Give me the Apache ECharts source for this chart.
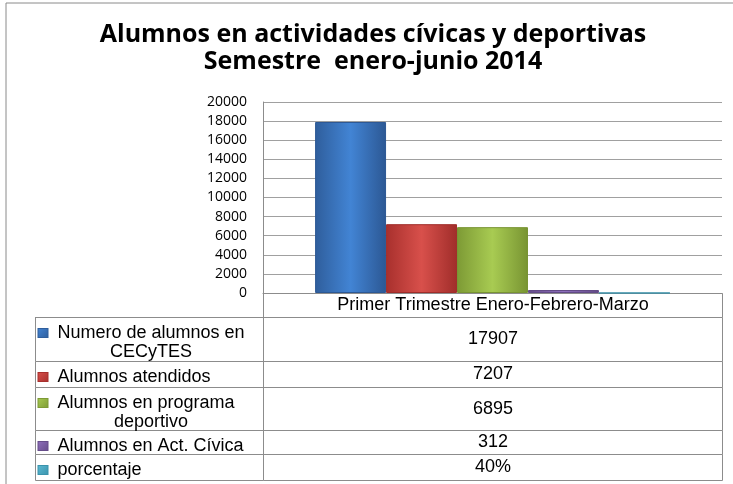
<!DOCTYPE html>
<html>
<head>
<meta charset="utf-8">
<script src="https://cdn.jsdelivr.net/npm/echarts@6.0.0/dist/echarts.min.js"></script>
<style>
  html, body { margin: 0; padding: 0; background: #fff; }
</style>
</head>
<body>
<div id="chart" style="width: 733px; height: 484px"></div>
<script>
// datos
const categories = ['Primer Trimestre Enero-Febrero-Marzo']
const seriesNames = [
  'Numero de alumnos en\nCECyTES',
  'Alumnos atendidos',
  'Alumnos en programa\ndeportivo',
  'Alumnos en Act. Cívica',
  'porcentaje',
]
const seriesValues = [17907, 7207, 6895, 312, 0.4]
const tableLabels = ['17907', '7207', '6895', '312', '40%']

// colores tipo Office con bisel
const colors = [
  ['#2f5e9c', '#4284d4', '#2c5894'],
  ['#a8302d', '#d8504b', '#a02d2a'],
  ['#7d9a35', '#a8cb52', '#789432'],
  ['#664d8a', '#9070bd', '#624a86'],
  ['#3a93ac', '#5cbad4', '#388ea6'],
]
const rowHeights = [44, 26, 43, 24, 26]

const chart = echarts.init(document.getElementById('chart'))
const tableFont = 'Liberation Sans'
const tableSize = 18
const borderColor = '#8c8c8c'

const grad = (c) =>
  new echarts.graphic.LinearGradient(0, 0, 1, 0, [
    { offset: 0, color: c[0] },
    { offset: 0.5, color: c[1] },
    { offset: 1, color: c[2] },
  ])

// texto de la fila con su icono
const rowText = (name, i) => {
  const lines = name.split('\n')
  let s = `{i${i}|}{g|}{t|${lines[0]}}`
  if (lines[1]) s += `\n{c|${lines[1]}}`
  return s
}

const rich = {
  g: { width: 10, align: 'left' },
  t: { fontFamily: tableFont, fontSize: tableSize, color: '#000', width: 199, align: 'left', lineHeight: 19 },
  c: { fontFamily: tableFont, fontSize: tableSize, color: '#000', width: 218, align: 'center', lineHeight: 19 },
}
colors.forEach((c, i) => {
  rich['i' + i] = {
    width: 9,
    height: 8,
    align: 'left',
    backgroundColor: new echarts.graphic.LinearGradient(0, 0, 1, 1, [
      { offset: 0, color: c[1] },
      { offset: 1, color: c[0] },
    ]),
    borderColor: c[0],
    borderWidth: 1,
  }
})

const option = {
  animation: false,
  backgroundColor: '#fff',
  title: {
    text: 'Alumnos en actividades cívicas y deportivas\nSemestre  enero-junio 2014',
    left: 368,
    textAlign: 'center',
    top: 16,
    textStyle: {
      fontFamily: 'Open Sans',
      fontWeight: 'bold',
      fontSize: 25,
      lineHeight: 27,
      color: '#000',
    },
  },
  graphic: [
    {
      type: 'rect',
      silent: true,
      z: -10,
      shape: { x: 6, y: 3, width: 900, height: 700 },
      style: { fill: 'none', stroke: '#8a8a8a', lineWidth: 1 },
    },
  ],
  grid: {
    left: 263,
    right: 11,
    top: 102,
    bottom: 191,
  },
  xAxis: {
    type: 'category',
    data: categories,
    axisLabel: { show: false },
    axisTick: { show: false },
    axisLine: { lineStyle: { color: borderColor } },
  },
  yAxis: {
    type: 'value',
    min: 0,
    max: 20000,
    interval: 2000,
    axisLine: { show: true, lineStyle: { color: borderColor } },
    axisTick: { show: false },
    splitLine: { lineStyle: { color: '#a0a0a0' } },
    axisLabel: {
      fontFamily: 'Open Sans',
      fontSize: 14,
      color: '#000',
      margin: 16,
      formatter: (v) => String(v),
    },
  },
  matrix: {
    left: 35,
    right: 11,
    top: 293,
    bottom: 4,
    backgroundStyle: { borderWidth: 0 },
    x: {
      data: categories.map((c) => ({ value: c })),
      levelSize: 24,
      label: { fontFamily: tableFont, fontSize: tableSize, color: '#000', overflow: 'none' },
      itemStyle: { borderColor: borderColor, borderWidth: 1, color: '#fff' },
      dividerLineStyle: { color: borderColor, width: 1 },
    },
    y: {
      data: seriesNames.map((n, i) => ({ value: rowText(n, i), size: rowHeights[i] })),
      levelSize: 228,
      label: { rich: rich, color: '#000', overflow: 'none', lineOverflow: 'none', padding: [6, 0, 0, 3] },
      itemStyle: { borderColor: borderColor, borderWidth: 1, color: '#fff' },
      dividerLineStyle: { color: borderColor, width: 1 },
    },
    body: {
      data: tableLabels.map((t, i) => ({ coord: [0, i], value: t })),
      label: { fontFamily: tableFont, fontSize: tableSize, color: '#000', overflow: 'none' },
      itemStyle: { borderColor: borderColor, borderWidth: 1, color: '#fff' },
    },
    corner: {
      itemStyle: { borderWidth: 0, color: 'transparent' },
    },
  },
  series: seriesNames.map((n, i) => ({
    name: n,
    type: 'bar',
    barGap: '0%',
    barCategoryGap: '22.7%',
    data: [seriesValues[i]],
    itemStyle: {
      color: grad(colors[i]),
      borderColor: colors[i][2],
      borderWidth: 1,
    },
  })),
}

chart.setOption(option)
</script>
</body>
</html>
